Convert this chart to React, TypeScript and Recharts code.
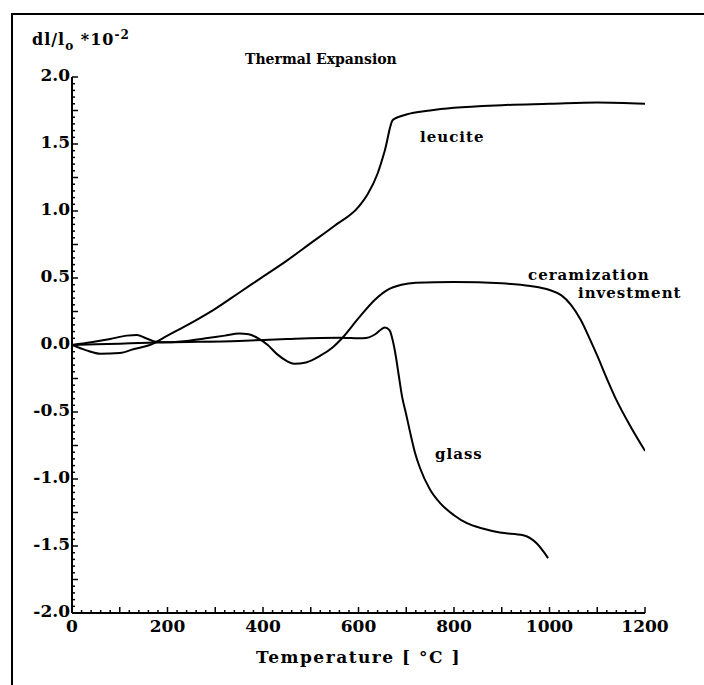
import React from "react";
import { LineChart, Line, XAxis, YAxis } from "recharts";

const leuciteT = [0, 30, 60, 100, 130, 163, 200, 262, 300, 350, 400, 450, 500, 550, 600, 620, 640, 655, 672, 700, 750, 800, 900, 1000, 1100, 1200];
const leuciteV = [0, -0.04, -0.065, -0.06, -0.03, 0, 0.07, 0.19, 0.27, 0.39, 0.51, 0.63, 0.76, 0.89, 1.03, 1.13, 1.28, 1.45, 1.68, 1.72, 1.75, 1.77, 1.79, 1.8, 1.81, 1.8];

const glassT = [0, 100, 200, 350, 450, 560, 609, 635, 645, 655, 665, 672, 678, 684, 691, 700, 708, 718, 729, 750, 771, 800, 827, 860, 896, 945, 973, 997];
const glassV = [0, 0.01, 0.02, 0.03, 0.045, 0.055, 0.05, 0.08, 0.11, 0.13, 0.11, 0.03, -0.08, -0.22, -0.38, -0.52, -0.65, -0.8, -0.92, -1.08, -1.18, -1.27, -1.33, -1.37, -1.4, -1.42, -1.48, -1.59];

const investT = [0, 40, 80, 115, 136, 155, 175, 200, 240, 280, 320, 350, 370, 390, 410, 430, 450, 465, 490, 520, 545, 568, 600, 635, 660, 690, 720, 800, 900, 960, 1000, 1025, 1045, 1065, 1085, 1100, 1120, 1140, 1170, 1200];
const investV = [0, 0.02, 0.045, 0.07, 0.075, 0.05, 0.025, 0.02, 0.03, 0.05, 0.07, 0.085, 0.08, 0.05, 0, -0.07, -0.12, -0.14, -0.13, -0.08, -0.02, 0.06, 0.2, 0.34, 0.41, 0.45, 0.465, 0.47, 0.46, 0.44, 0.41, 0.37, 0.3, 0.19, 0.04, -0.08, -0.25, -0.41, -0.61, -0.79];

const xTicks = Array.from({ length: 61 }, (_, i) => i * 20);
const yTicks = Array.from({ length: 81 }, (_, i) => Math.round((-2 + i * 0.05) * 100) / 100);

const toPoints = (ts: number[], vs: number[]) => ts.map((t, i) => ({ t, v: vs[i] }));

const FONT = "'DejaVu Serif', serif";

const near = (v: number, step: number) => Math.abs(v / step - Math.round(v / step)) < 1e-6;

// ticks drawn inward, with labels only on the labelled steps
const XTick = (props: any) => {
  const { x, y, payload } = props;
  const v = payload.value;
  const len = near(v, 100) ? 6 : 3;
  return (
    <g>
      <line x1={x} y1={y} x2={x} y2={y - len} stroke="#000" strokeWidth={1.5} />
      {near(v, 200) && (
        <text x={x} y={y + 19} textAnchor="middle" fill="#000" fontFamily={FONT} fontWeight="bold" fontSize={17}>{v}</text>
      )}
    </g>
  );
};

const YTick = (props: any) => {
  const { x, y, payload } = props;
  const v = payload.value;
  const len = near(v, 0.25) ? 6 : 3;
  return (
    <g>
      <line x1={x} y1={y} x2={x + len} y2={y} stroke="#000" strokeWidth={1.5} />
      {near(v, 0.5) && (
        <text x={x - 2} y={y + 4} textAnchor="end" fill="#000" fontFamily={FONT} fontWeight="bold" fontSize={17}>{v.toFixed(1)}</text>
      )}
    </g>
  );
};

const note = (left: number, top: number, size = 15, spacing = 1): React.CSSProperties => ({
  position: "absolute", left, top, fontFamily: FONT, fontWeight: "bold", fontSize: size, lineHeight: "18px",
  letterSpacing: spacing, whiteSpace: "nowrap",
});

export default function App() {
  return (
    <div style={{ position: "absolute", left: 0, top: 0, width: 704, height: 685, background: "#fff", overflow: "hidden" }}>
      <div style={{ position: "absolute", left: 11, top: 13, width: 720, height: 700, borderLeft: "2px solid #000", borderTop: "2px solid #000" }} />
      <LineChart width={704} height={685} margin={{ top: 77, right: 59, left: 0, bottom: 0 }}>
        <XAxis type="number" dataKey="t" domain={[0, 1200]} ticks={xTicks} interval={0} allowDataOverflow
          height={72} tickLine={false} tickSize={0} tickMargin={0} axisLine={{ stroke: "#000", strokeWidth: 2 }}
          tick={<XTick />}
          label={{ value: "Temperature [ °C ]", position: "insideBottom", offset: 22, fill: "#000", fontFamily: FONT, fontWeight: "bold", fontSize: 17, letterSpacing: 1.5 }} />
        <YAxis type="number" domain={[-2, 2]} ticks={yTicks} interval={0} width={72} tickLine={false} tickSize={0} tickMargin={0}
          axisLine={{ stroke: "#000", strokeWidth: 2 }} tick={<YTick />} />
        <Line data={toPoints(leuciteT, leuciteV)} dataKey="v" type="monotone" stroke="#000" strokeWidth={2} dot={false} isAnimationActive={false} />
        <Line data={toPoints(glassT, glassV)} dataKey="v" type="monotone" stroke="#000" strokeWidth={2} dot={false} isAnimationActive={false} />
        <Line data={toPoints(investT, investV)} dataKey="v" type="monotone" stroke="#000" strokeWidth={2} dot={false} isAnimationActive={false} />
      </LineChart>
      <div style={note(32, 26, 16, 1)}>
        dl/l<sub style={{ fontSize: 12 }}>o</sub> *10<sup style={{ fontSize: 12 }}>-2</sup>
      </div>
      <div style={note(245, 50, 14, 0)}>Thermal Expansion</div>
      <div style={note(420, 128)}>leucite</div>
      <div style={note(528, 266)}>ceramization</div>
      <div style={note(578, 284)}>investment</div>
      <div style={note(435, 445)}>glass</div>
    </div>
  );
}
